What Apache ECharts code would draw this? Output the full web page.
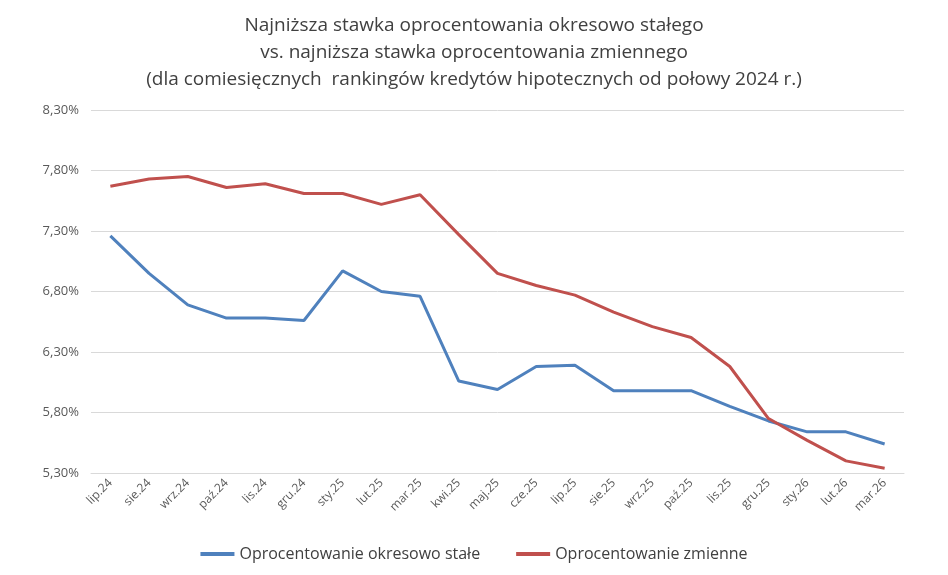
<!DOCTYPE html>
<html><head><meta charset="utf-8">
<script src="https://cdn.jsdelivr.net/npm/echarts@6/dist/echarts.min.js"></script>
<style>html,body{margin:0;padding:0;background:#fff}#c{width:948px;height:575px}</style>
</head><body><div id="c"></div>
<script>
const categories=['lip.24','sie.24','wrz.24','paź.24','lis.24','gru.24','sty.25','lut.25','mar.25','kwi.25','maj.25','cze.25','lip.25','sie.25','wrz.25','paź.25','lis.25','gru.25','sty.26','lut.26','mar.26'];
const fixedRate=[7.26,6.95,6.69,6.58,6.58,6.56,6.97,6.80,6.76,6.06,5.99,6.18,6.19,5.98,5.98,5.98,5.85,5.73,5.64,5.64,5.54];
const variableRate=[7.67,7.73,7.75,7.66,7.69,7.61,7.61,7.52,7.60,7.27,6.95,6.85,6.77,6.63,6.51,6.42,6.18,5.75,5.57,5.40,5.34];
const names=['Oprocentowanie okresowo stałe','Oprocentowanie zmienne'];
const chart=echarts.init(document.getElementById('c'));
chart.setOption({
  animation:false,
  title:{text:'Najniższa stawka oprocentowania okresowo stałego\nvs. najniższa stawka oprocentowania zmiennego\n(dla comiesięcznych  rankingów kredytów hipotecznych od połowy 2024 r.)',
    left:'center',top:7,textStyle:{fontFamily:'Open Sans',fontSize:19,fontWeight:'normal',color:'#404040',lineHeight:27}},
  grid:{left:91,right:44,top:110,bottom:102,containLabel:false},
  legend:{bottom:8,left:'center',itemWidth:34,itemHeight:4,itemGap:36,icon:'rect',
    textStyle:{fontFamily:'Open Sans',fontSize:16,color:'#404040'}},
  xAxis:{type:'category',data:categories,boundaryGap:true,
    axisLine:{lineStyle:{color:'#d9d9d9'}},axisTick:{show:false},
    axisLabel:{rotate:45,color:'#595959',fontFamily:'Open Sans',fontSize:12,interval:0}},
  yAxis:{type:'value',min:5.3,max:8.3,interval:0.5,
    axisLine:{show:false},axisTick:{show:false},
    splitLine:{lineStyle:{color:'#d9d9d9'}},
    axisLabel:{color:'#595959',fontFamily:'Open Sans',fontSize:13,margin:12,
      formatter:v=>v.toFixed(2).replace('.',',')+'%'}},
  series:[
    {name:names[0],type:'line',data:fixedRate,symbol:'none',lineStyle:{width:3,color:'#4f81bd'},itemStyle:{color:'#4f81bd'}},
    {name:names[1],type:'line',data:variableRate,symbol:'none',lineStyle:{width:3,color:'#c0504d'},itemStyle:{color:'#c0504d'}}
  ]
});
</script></body></html>
